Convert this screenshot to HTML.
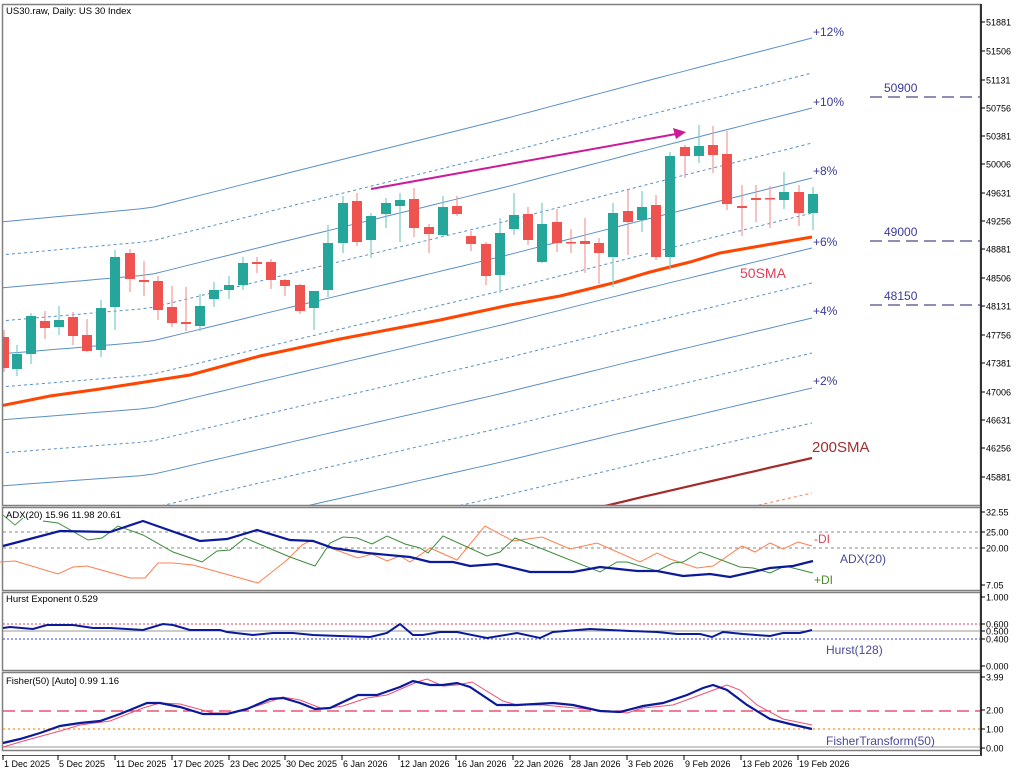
<!DOCTYPE html>
<html><head><meta charset="utf-8">
<style>
html,body{margin:0;padding:0;background:#fff;}
svg{display:block;font-family:"Liberation Sans",sans-serif;}
</style></head>
<body>
<svg id="c" width="1024" height="773" viewBox="0 0 1024 773" xmlns="http://www.w3.org/2000/svg">
<rect x="0" y="0" width="1024" height="773" fill="#fff"/>
<defs>
<clipPath id="mainclip"><rect x="3" y="5" width="977" height="500"/></clipPath>
</defs>
<g id="bands" clip-path="url(#mainclip)"></g>
<g id="candles" clip-path="url(#mainclip)"></g>
<g id="overlay"></g>
</svg>
<script>
const NS="http://www.w3.org/2000/svg";
const svg=document.getElementById('c');
function el(tag,attrs,parent,text){const e=document.createElementNS(NS,tag);for(const k in attrs)e.setAttribute(k,attrs[k]);if(text!==undefined)e.textContent=text;(parent||svg).appendChild(e);return e;}
function pl(pts,attrs,parent){el('polyline',Object.assign({points:pts.map(p=>p.join(',')).join(' '),fill:'none'},attrs),parent);}
const bands=document.getElementById('bands'),cg=document.getElementById('candles'),ov=document.getElementById('overlay');

// band base curve (+12%)
const baseP=[[0,222],[150,208],[300,170],[500,120],[650,80],[812,38]];
function interp(P,x){for(let i=0;i<P.length-1;i++){if(x<=P[i+1][0]){const t=(x-P[i][0])/(P[i+1][0]-P[i][0]);return P[i][1]+t*(P[i+1][1]-P[i][1]);}}return P[P.length-1][1];}
for(let k=0;k<14;k++){
  const pts=[];
  for(let x=0;x<=812;x+=14){const sp=33+2*(x/812);pts.push([x,(interp(baseP,x)+k*sp).toFixed(1)]);}
  let attrs;
  if(k==12){attrs={stroke:'#a52a2a','stroke-width':2.2};const p2=pts.filter(p=>p[0]>=600);pl(p2,attrs,bands);continue;}
  if(k==13){attrs={stroke:'#ff7f50','stroke-width':1,'stroke-dasharray':'3,3'};pl(pts,attrs,bands);continue;}
  attrs=k%2==0?{stroke:'#5b8fc7','stroke-width':1}:{stroke:'#5b8fc7','stroke-width':1,'stroke-dasharray':'3,3'};
  pl(pts,attrs,bands);
}
// 50 SMA
pl([[0,406],[50,396],[100,389],[190,375],[260,356],[340,339],[440,320],[510,305],[560,296],[613,283],[650,272],[690,262],[720,253],[760,246],[812,237]],{stroke:'#ff4500','stroke-width':3},bands);

// candles: [x, open, close, high, low]  (y pixels)
const C=[
[4,337,368,330,372],[17,369,354,345,376],[31,354,316,313,364],[45,321,328,311,339],[59,327,320,306,335],
[73,317,336,312,345],[87,335,351,319,352],[101,350,308,300,357],[115,307,257,250,330],[130,253,279,249,292],
[144,280,282,261,296],[158,281,310,276,320],[172,307,323,286,327],[186,322,324,287,331],[200,326,306,294,331],
[214,299,290,282,307],[229,290,285,276,299],[243,285,263,257,290],[257,262,264,257,273],[271,262,280,259,289],
[285,280,286,279,296],[300,285,311,284,314],[314,308,291,291,330],[328,290,243,225,297],[343,243,203,196,253],
[357,201,242,193,246],[371,240,216,213,258],[386,214,203,198,228],[400,206,200,193,242],[414,199,228,188,237],
[429,227,234,224,253],[443,235,207,196,237],[457,206,214,196,216],[471,236,244,231,251],[486,244,276,242,285],
[500,275,233,218,293],[514,229,215,193,235],[528,214,240,207,245],[542,262,224,203,263],[557,222,243,209,252],
[571,242,243.5,229,253],[585,241,244,218,273],[599,243,253,238,284],[613,257,213,203,287],[628,211,222,190,255],
[642,220,207,191,232],[656,205,257,195,260],[670,257,156,152,270],[685,147,156,145,178],[699,156,146,125,163],
[713,145,155,126,173],[727,154,204,131,210],[742,206,208,185,236],[756,198,200,185,222],[770,198,199.5,186,228],
[784,200,192,172,209],[799,192,213,185,226],[813,213,194,187,230]];
C.forEach(c=>{const [x,o,cl,h,l]=c;const up=cl<o;const col=up?'#26a69a':'#ef5350';const wc=up?'#7ccbc3':'#f49a98';
 el('line',{x1:x,y1:h,x2:x,y2:l,stroke:wc,'stroke-width':1.2},cg);
 const top=Math.min(o,cl),ht=Math.max(1.5,Math.abs(o-cl));
 el('rect',{x:x-5,y:top,width:10,height:ht,fill:col},cg);});

// arrow
el('line',{x1:371,y1:189,x2:676,y2:134,stroke:'#cc1a99','stroke-width':2},ov);
el('polygon',{points:'686,132 673,128 676,139',fill:'#cc1a99'},ov);

// horizontal levels
[[97,'50900'],[241,'49000'],[305,'48150']].forEach(a=>{
 el('line',{x1:870,y1:a[0],x2:980,y2:a[0],stroke:'#4a4a8a','stroke-width':1.2,'stroke-dasharray':'12,6'},ov);
 el('text',{x:884,y:a[0]-5,'font-size':12,fill:'#3a3aa0'},ov,a[1]);});
// band labels
[[31,'+12%'],[101,'+10%'],[170,'+8%'],[241,'+6%'],[310,'+4%'],[380,'+2%']].forEach(a=>el('text',{x:813,y:a[0]+5,'font-size':12,fill:'#3a3a9a'},ov,a[1]));
el('text',{x:740,y:278,'font-size':14,fill:'#e0405a'},ov,'50SMA');
el('text',{x:812,y:452,'font-size':15,fill:'#a03030'},ov,'200SMA');

// frames
const fr='#808080';
[[4,505],[507,590],[592,670],[672,750]].forEach(p=>el('rect',{x:2.5,y:p[0]+.5,width:978,height:p[1]-p[0],fill:'none',stroke:fr,'stroke-width':1.5}));
el('line',{x1:981,y1:4,x2:981,y2:756,stroke:'#333','stroke-width':2});
el('line',{x1:2,y1:755.5,x2:981,y2:755.5,stroke:'#555','stroke-width':1});
el('text',{x:6,y:14,'font-size':9.5,fill:'#000'},svg,'US30.raw, Daily:  US 30 Index');

// price axis
const pt=[[51881,22],[51506,51],[51131,80],[50756,108],[50381,136],[50006,164],[49631,193],[49256,221],[48881,249],[48506,278],[48131,306],[47756,335],[47381,363],[47006,392],[46631,420],[46256,448],[45881,477]];
function axis(list){list.forEach(a=>{el('line',{x1:981,y1:a[1],x2:985,y2:a[1],stroke:'#000','stroke-width':1});el('text',{x:986,y:a[1]+3.5,'font-size':9,fill:'#000'},svg,a[0]);});}
axis(pt);
axis([['32.55',512],['25.00',532],['20.00',548],['7.05',585],['1.000',597],['0.600',624],['0.500',631],['0.400',639],['0.000',666],['3.99',677],['2.00',710],['1.00',729],['0.00',748]]);

// ADX panel
el('line',{x1:3,y1:532,x2:980,y2:532,stroke:'#888','stroke-width':1,'stroke-dasharray':'3,3'});
el('line',{x1:3,y1:548,x2:980,y2:548,stroke:'#888','stroke-width':1,'stroke-dasharray':'3,3'});
pl([[0,562],[15,561],[58,574],[73,567],[87,566],[130,578],[145,578],[158,563],[173,563],[193,565],[258,583],[287,560],[302,545],[312,540],[328,547],[358,558],[372,554],[387,561],[400,556],[410,562],[430,548],[457,560],[485,526],[513,541],[542,537],[570,549],[597,543],[640,562],[657,553],[670,559],[697,568],[713,566],[742,546],[755,552],[770,543],[783,549],[798,542],[812,546]],{stroke:'#ff7f50','stroke-width':1});
pl([[3,515],[15,525],[23,518]],{stroke:'#4a9a4a','stroke-width':1});
pl([[43,521],[58,523],[88,540],[102,538],[118,526],[143,535],[173,552],[202,562],[217,551],[230,550],[245,538],[290,557],[315,566],[330,543],[343,537],[357,538],[372,544],[387,536],[405,544],[420,548],[428,553],[443,536],[487,556],[500,552],[515,538],[600,572],[617,562],[627,562],[657,571],[673,563],[683,562],[700,552],[740,567],[753,568],[770,573],[785,566],[813,573]],{stroke:'#3c8c3c','stroke-width':1});
pl([[3,546],[60,531],[110,532],[143,521],[200,541],[227,539],[257,530],[290,540],[313,541],[333,548],[367,553],[410,557],[430,562],[453,562],[470,566],[497,564],[530,572],[573,572],[600,567],[637,571],[657,571],[683,576],[710,574],[730,577],[770,568],[793,566],[813,561]],{stroke:'#0a1a9a','stroke-width':2.2});
el('text',{x:6,y:518,'font-size':9.5,fill:'#000'},svg,'ADX(20) 15.96 11.98 20.61');
el('text',{x:814,y:543,'font-size':12,fill:'#e0405a'},svg,'-DI');
el('text',{x:840,y:563,'font-size':12,fill:'#4a4a9a'},svg,'ADX(20)');
el('text',{x:814,y:584,'font-size':12,fill:'#4a8a2a'},svg,'+DI');

// Hurst panel
el('line',{x1:3,y1:624,x2:980,y2:624,stroke:'#e04060','stroke-width':1,'stroke-dasharray':'2,2'});
el('line',{x1:3,y1:631,x2:980,y2:631,stroke:'#999','stroke-width':1});
el('line',{x1:3,y1:639,x2:980,y2:639,stroke:'#3040e0','stroke-width':1,'stroke-dasharray':'2,2'});
pl([[3,628],[10,627],[33,629],[47,625],[73,625],[93,628],[110,628],[127,629],[143,630],[163,624],[173,625],[190,630],[220,630],[227,632],[253,635],[273,633],[293,633],[313,635],[340,636],[370,637],[387,633],[400,624],[413,635],[423,635],[440,632],[457,632],[487,638],[517,633],[540,638],[553,632],[590,629],[630,631],[657,632],[677,634],[700,634],[712,637],[723,632],[743,634],[770,636],[783,633],[800,633],[812,630]],{stroke:'#0a1a9a','stroke-width':2});
el('text',{x:6,y:602,'font-size':9.5,fill:'#000'},svg,'Hurst Exponent 0.529');
el('text',{x:826,y:654,'font-size':12,fill:'#4a4a9a'},svg,'Hurst(128)');

// Fisher panel
el('line',{x1:3,y1:711,x2:980,y2:711,stroke:'#e8305a','stroke-width':1.2,'stroke-dasharray':'12,6'});
el('line',{x1:3,y1:729,x2:980,y2:729,stroke:'#ffa040','stroke-width':1.5,'stroke-dasharray':'2,3'});
el('line',{x1:3,y1:747,x2:980,y2:747,stroke:'#999','stroke-width':1});
pl([[3,747],[27,740],[60,731],[80,725],[110,721],[143,708],[160,703],[180,704],[213,713],[233,713],[260,705],[283,697],[300,700],[323,709],[343,706],[367,698],[387,695],[417,682],[427,679],[443,686],[457,685],[472,682],[503,701],[517,705],[543,705],[597,710],[627,713],[643,708],[673,705],[700,695],[727,685],[740,690],[757,705],[783,719],[812,725]],{stroke:'#f05070','stroke-width':1});
pl([[3,743],[20,739],[40,733],[60,726],[80,723],[100,721],[120,714],[147,703],[160,703],[180,707],[203,714],[227,714],[247,709],[270,699],[283,698],[300,703],[315,709],[330,708],[358,695],[377,695],[400,687],[413,681],[430,685],[443,685],[457,683],[470,687],[497,705],[517,705],[553,703],[573,705],[600,711],[620,712],[643,706],[663,703],[687,695],[703,688],[713,685],[727,690],[747,705],[770,719],[790,724],[812,729]],{stroke:'#0a1a9a','stroke-width':2.2});
el('text',{x:6,y:684,'font-size':9.5,fill:'#000'},svg,'Fisher(50) [Auto] 0.99 1.16');
el('text',{x:826,y:745,'font-size':12,fill:'#4a4a9a'},svg,'FisherTransform(50)');

// date axis
const D=[[3,'1 Dec 2025'],[58,'5 Dec 2025'],[115,'11 Dec 2025'],[172,'17 Dec 2025'],[229,'23 Dec 2025'],[285,'30 Dec 2025'],[342,'6 Jan 2026'],[399,'12 Jan 2026'],[456,'16 Jan 2026'],[513,'22 Jan 2026'],[570,'28 Jan 2026'],[627,'3 Feb 2026'],[684,'9 Feb 2026'],[741,'13 Feb 2026'],[798,'19 Feb 2026']];
D.forEach(d=>{el('line',{x1:d[0],y1:755,x2:d[0],y2:760,stroke:'#000','stroke-width':1});el('text',{x:d[0]+1,y:767,'font-size':9,fill:'#000'},svg,d[1]);});
</script>
</body></html>
